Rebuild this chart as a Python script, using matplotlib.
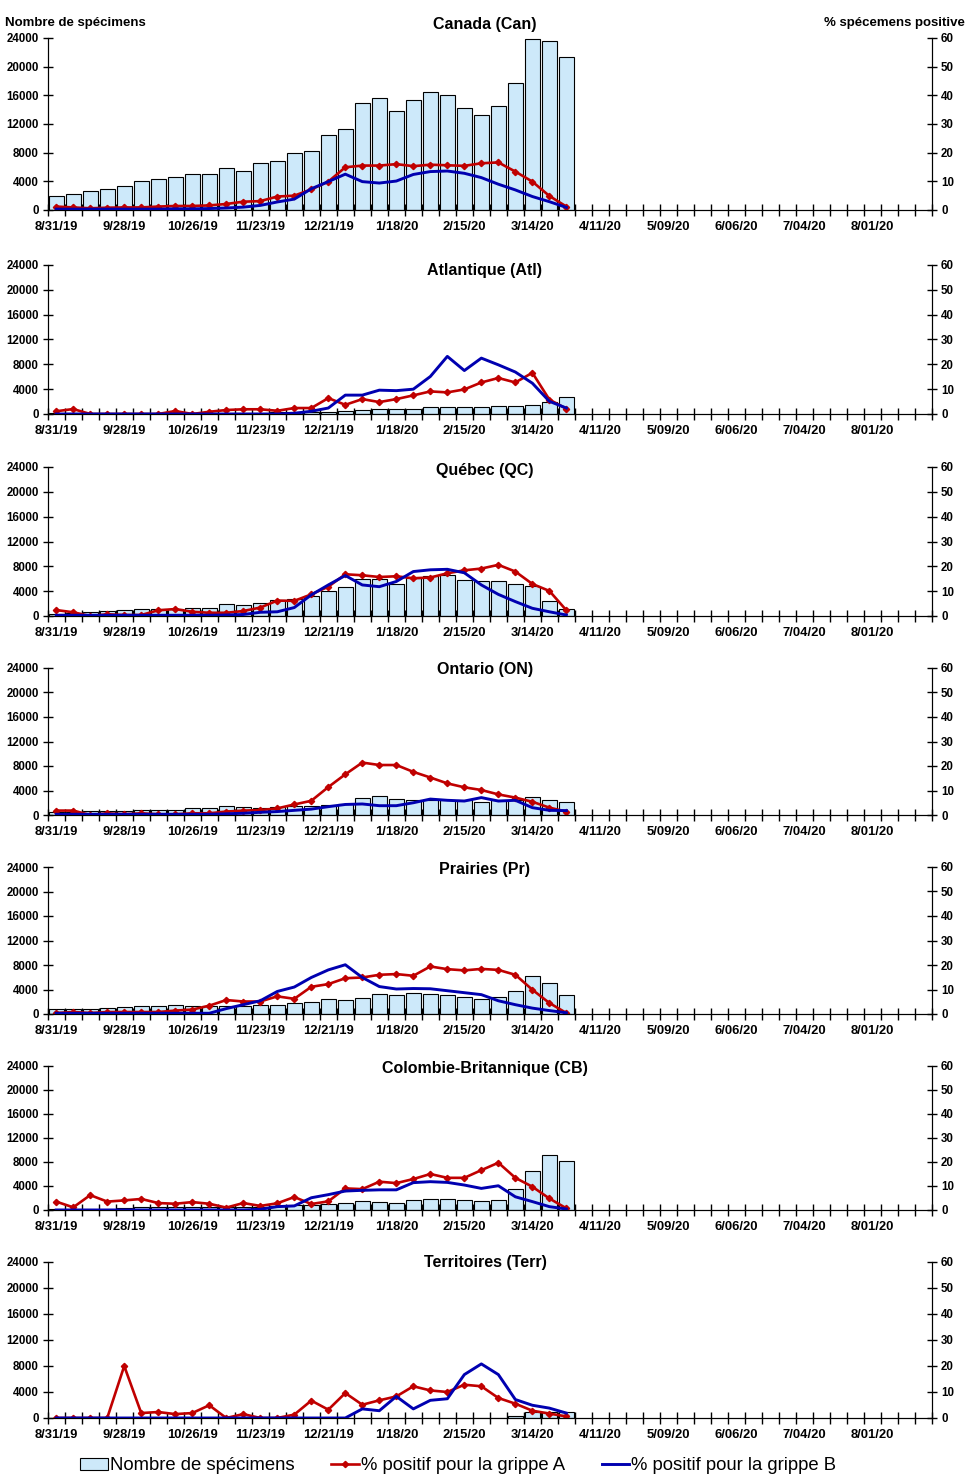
import numpy as np
import matplotlib
matplotlib.use("Agg")
import matplotlib.pyplot as plt
from matplotlib.patches import Patch
from matplotlib.lines import Line2D
from matplotlib.ticker import NullFormatter

plt.rcParams['font.family'] = ['Liberation Sans', 'DejaVu Sans']

# x axis: 52 weekly categories starting 8/31/19, labels every 4 weeks
week_labels = ['8/31/19', '9/28/19', '10/26/19', '11/23/19', '12/21/19', '1/18/20',
               '2/15/20', '3/14/20', '4/11/20', '5/09/20', '6/06/20', '7/04/20', '8/01/20']
n_weeks = 52

# number of specimens (left axis) and % positive A / B (right axis), 31 weeks of data
canada_n = [1900, 2200, 2600, 3000, 3300, 4000, 4300, 4600, 5000, 5000, 5800, 5500, 6500, 6900, 8000, 8200,
            10400, 11300, 14900, 15600, 13800, 15300, 16500, 16100, 14300, 13300, 14500, 17700, 23800, 23600, 21300]
canada_a = [1.2, 0.9, 0.6, 0.8, 0.9, 0.9, 1.2, 1.4, 1.4, 1.6, 2.1, 2.9, 3.1, 4.7, 5.0, 7.2,
            9.9, 14.9, 15.5, 15.5, 16.0, 15.3, 15.8, 15.6, 15.4, 16.3, 16.6, 13.4, 9.9, 4.9, 1.2]
canada_b = [0.3, 0.3, 0.3, 0.3, 0.3, 0.3, 0.3, 0.4, 0.4, 0.5, 0.7, 1.0, 1.6, 2.8, 3.8, 7.4,
            9.9, 12.5, 9.9, 9.4, 10.1, 12.4, 13.4, 13.6, 12.8, 11.3, 9.0, 7.0, 4.7, 2.9, 0.9]

atl_n = [150, 150, 150, 150, 150, 150, 150, 150, 150, 150, 200, 200, 200, 250, 250, 300,
         400, 500, 700, 850, 850, 850, 1100, 1100, 1100, 1100, 1300, 1300, 1450, 1900, 2700]
atl_a = [1.1, 2.0, 0, 0, 0, 0, 0, 1.2, 0, 0.9, 1.6, 1.9, 1.9, 1.3, 2.4, 2.4,
         6.4, 3.7, 6.0, 4.8, 6.0, 7.5, 9.1, 8.7, 9.9, 12.7, 14.5, 12.7, 16.6, 5.8, 2.1]
atl_b = [0, 0, 0, 0, 0, 0, 0, 0, 0, 0, 0, 0, 0, 0, 0.3, 1.1,
         2.4, 7.6, 7.6, 9.6, 9.4, 10.0, 15.1, 23.2, 17.5, 22.5, 19.8, 16.9, 12.4, 5.1, 2.4]

qc_n = [400, 500, 700, 800, 900, 1100, 1100, 1200, 1350, 1350, 1900, 1700, 2150, 2500, 2750, 3300,
        4000, 4600, 6000, 5900, 5100, 6100, 6500, 6550, 5750, 5600, 5600, 5100, 4800, 2400, 1200]
qc_a = [2.4, 1.5, 0, 0.7, 0.4, 0.4, 2.3, 2.8, 1.7, 1.3, 1.3, 2.0, 3.4, 6.2, 6.1, 8.7,
        11.8, 16.8, 16.4, 15.7, 16.0, 15.2, 15.5, 17.2, 18.4, 19.1, 20.6, 17.9, 12.9, 10.1, 2.3]
qc_b = [0.3, 0.3, 0.3, 0.3, 0.3, 0.3, 0.3, 0.3, 0.3, 0.3, 0.4, 0.6, 1.5, 1.7, 3.4, 8.5,
        12.5, 16.3, 12.5, 11.8, 13.9, 17.9, 18.6, 18.8, 17.4, 12.5, 8.7, 5.8, 3.1, 1.7, 0.4]

on_n = [450, 550, 700, 700, 700, 850, 850, 850, 1200, 1200, 1500, 1350, 1200, 1350, 1500, 1500,
        1700, 1800, 2800, 3150, 2650, 2500, 2500, 2400, 2400, 2050, 2500, 2500, 3000, 2500, 2050]
on_a = [1.8, 1.8, 0, 0.7, 0.3, 0.7, 0.3, 0.3, 0.7, 0.7, 1.4, 1.8, 2.0, 2.7, 4.3, 5.8,
        11.4, 16.6, 21.4, 20.4, 20.4, 17.6, 15.3, 12.9, 11.3, 10.2, 8.4, 7.1, 5.4, 3.0, 1.4]
on_b = [0.3, 0.3, 0.3, 0.3, 0.3, 0.3, 0.3, 0.3, 0.3, 0.3, 0.5, 0.7, 1.1, 1.4, 1.9, 2.4,
        3.4, 4.3, 4.5, 3.8, 3.8, 5.0, 6.5, 6.0, 5.7, 7.1, 5.7, 6.0, 3.0, 1.9, 1.8]

pr_n = [800, 800, 800, 1000, 1150, 1350, 1350, 1450, 1350, 1250, 1350, 1350, 1500, 1500, 1850, 2000,
        2500, 2350, 2650, 3300, 3150, 3400, 3300, 3150, 2800, 2500, 2800, 3800, 6200, 5100, 3150]
pr_a = [0.4, 0.8, 0.4, 0.8, 0.8, 0.8, 0.8, 1.4, 1.8, 3.4, 5.7, 5.1, 5.1, 7.2, 6.2, 11.1,
        12.2, 14.6, 14.9, 16.0, 16.3, 15.6, 19.4, 18.3, 17.8, 18.4, 18.0, 16.0, 9.9, 4.5, 0.4]
pr_b = [0.3, 0.3, 0.3, 0.3, 0.3, 0.3, 0.3, 0.3, 0.3, 0.3, 2.2, 3.8, 5.4, 9.2, 11.0, 14.9,
        18.0, 20.1, 14.9, 11.2, 10.2, 10.4, 10.3, 9.5, 8.7, 7.9, 5.4, 3.8, 2.4, 1.4, 0.5]

cb_n = [100, 100, 200, 200, 300, 450, 450, 450, 550, 550, 500, 500, 550, 700, 800, 900,
        1000, 1150, 1500, 1300, 1150, 1600, 1800, 1800, 1700, 1500, 1700, 3500, 6500, 9150, 8150]
cb_a = [3.5, 1.1, 6.2, 3.5, 4.0, 4.6, 2.9, 2.6, 3.3, 2.6, 1.0, 2.9, 1.7, 2.8, 5.4, 2.5,
        3.6, 9.0, 8.7, 11.8, 11.2, 12.9, 15.0, 13.4, 13.4, 16.6, 19.7, 13.4, 9.7, 4.8, 0.7]
cb_b = [0, 0, 0, 0, 0, 0, 0, 0, 0, 0, 0, 0, 0.3, 1.4, 1.7, 5.1,
        6.4, 7.9, 8.2, 8.4, 8.4, 11.4, 11.8, 11.5, 10.4, 9.0, 10.1, 5.5, 3.5, 1.4, 0.4]

terr_n = [30, 30, 30, 30, 30, 30, 30, 30, 30, 30, 30, 30, 30, 30, 30, 30,
          30, 40, 50, 50, 50, 60, 60, 60, 60, 60, 60, 300, 900, 850, 900]
terr_a = [0, 0, 0, 0, 20.0, 1.9, 2.3, 1.5, 1.9, 4.9, 0, 1.5, 0, 0, 1.3, 6.7,
          3.2, 9.6, 5.1, 6.8, 8.3, 12.2, 10.6, 10.0, 12.8, 12.2, 7.7, 5.5, 2.8, 1.7, 0.6]
terr_b = [0, 0, 0, 0, 0, 0, 0, 0, 0, 0, 0, 0, 0, 0, 0, 0,
          0, 0, 3.5, 2.8, 8.3, 3.5, 6.8, 7.4, 16.7, 20.8, 16.7, 7.1, 4.9, 3.8, 1.9]

# (title, counts, %A, %B, axes top px, axes bottom px, title y px)
panels = [
    ('Canada (Can)', canada_n, canada_a, canada_b, 38, 210, 25),
    ('Atlantique (Atl)', atl_n, atl_a, atl_b, 265, 414, 270),
    ('Québec (QC)', qc_n, qc_a, qc_b, 467, 616, 470),
    ('Ontario (ON)', on_n, on_a, on_b, 668, 815, 670),
    ('Prairies (Pr)', pr_n, pr_a, pr_b, 867, 1014, 869),
    ('Colombie-Britannique (CB)', cb_n, cb_a, cb_b, 1066, 1210, 1068),
    ('Territoires (Terr)', terr_n, terr_a, terr_b, 1262, 1418, 1262),
]

W, H = 970, 1480
BAR_C = '#cde9fa'
RED = '#c00000'
BLUE = '#0000b0'
left_px, right_px = 47.7, 932

fig = plt.figure(figsize=(W / 100, H / 100), dpi=100)

for title, n, a, b, top, bot, ty in panels:
    ax = fig.add_axes([left_px / W, 1 - bot / H, (right_px - left_px) / W, (bot - top) / H])
    x = np.arange(len(n)) + 0.5
    ax.bar(x, n, width=0.86, color=BAR_C, edgecolor='black', linewidth=0.8)
    ax.set_xlim(0, n_weeks)
    ax.set_ylim(0, 24000)
    yt = list(range(0, 24001, 4000))
    ax.set_yticks(yt, labels=[str(v) for v in yt], fontsize=8.3, fontweight='bold')
    ax.tick_params(axis='y', direction='inout', length=7, width=1, pad=3)
    ax.set_xticks(np.arange(n_weeks + 1))
    ax.xaxis.set_major_formatter(NullFormatter())
    ax.set_xticks(np.arange(len(week_labels)) * 4 + 0.5, labels=week_labels, minor=True,
                  fontsize=9.4, fontweight='bold')
    ax.tick_params(axis='x', which='major', direction='inout', length=8, width=1)
    ax.tick_params(axis='x', which='minor', length=0, pad=8)
    ax.spines['top'].set_visible(False)

    ax2 = ax.twinx()
    ax2.set_ylim(0, 60)
    rt = list(range(0, 61, 10))
    ax2.set_yticks(rt, labels=[str(v) for v in rt], fontsize=8.3, fontweight='bold')
    ax2.tick_params(axis='y', direction='inout', length=7, width=1, pad=3)
    ax2.spines['top'].set_visible(False)
    ax2.plot(x, a, color=RED, lw=1.9, marker='D', ms=3.2, zorder=2)
    ax2.plot(x, b, color=BLUE, lw=2.1, zorder=3)

    fig.text(485 / W, 1 - ty / H, title, ha='center', va='center', fontsize=11.5, fontweight='bold')

fig.text(5 / W, 1 - 23 / H, 'Nombre de spécimens', ha='left', va='center', fontsize=9.5, fontweight='bold')
fig.text(965 / W, 1 - 23 / H, '% spécemens positive', ha='right', va='center', fontsize=9.5, fontweight='bold')

handles = [Patch(facecolor=BAR_C, edgecolor='black', linewidth=0.8),
           Line2D([], [], color=RED, lw=1.9, marker='D', ms=3.2),
           Line2D([], [], color=BLUE, lw=2.1)]
fig.legend(handles, ['Nombre de spécimens', '% positif pour la grippe A', '% positif pour la grippe B'],
           loc='center left', bbox_to_anchor=(80 / W, 1 - 1466 / H), ncol=3, frameon=False,
           fontsize=13.3, handlelength=1.5, handleheight=0.6, handletextpad=0.1,
           columnspacing=2.0, borderpad=0, borderaxespad=0)

fig.savefig('out.png', dpi=100)
